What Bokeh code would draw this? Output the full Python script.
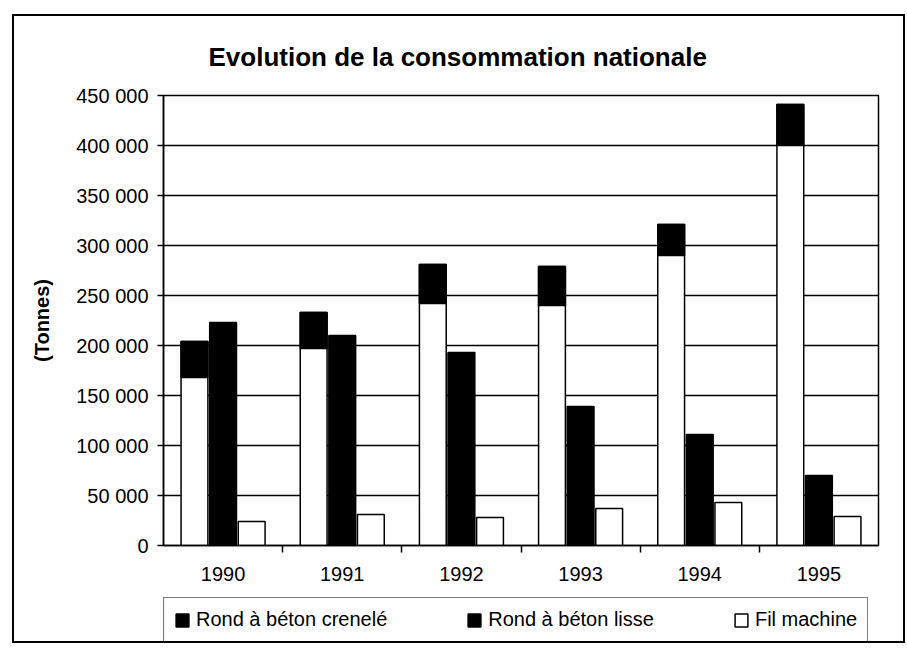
from bokeh.plotting import figure
from bokeh.layouts import column
from bokeh.models import (Range1d, FixedTicker, Legend, LegendItem, Title, ColumnDataSource)
from bokeh.transform import dodge
from bokeh.embed import file_html
from bokeh.resources import INLINE

# ---- data ----
years = ["1990", "1991", "1992", "1993", "1994", "1995"]
crenele = [204000, 233000, 281000, 279000, 321000, 441000]          # bar top
crenele_light = [168000, 197000, 242000, 240000, 290000, 400000]    # top of light part
lisse = [223000, 210000, 193000, 139000, 111000, 70000]
fil = [24000, 31000, 28000, 37000, 43000, 29000]
series_names = ["Rond à béton crenelé", "Rond à béton lisse", "Fil machine"]
y_ticks = [0, 50000, 100000, 150000, 200000, 250000, 300000, 350000, 400000, 450000]
y_tick_labels = ["0", "50 000", "100 000", "150 000", "200 000", "250 000",
                 "300 000", "350 000", "400 000", "450 000"]
title_text = "Evolution de la consommation nationale"
y_label = "(Tonnes)"

FONT = "Liberation Sans"

xc = [i + 0.5 for i in range(len(years))]
src = ColumnDataSource(dict(x=xc, crenele=crenele, crenele_light=crenele_light,
                            lisse=lisse, fil=fil, zero=[0] * len(years)))

BW = 0.225
OFF = 0.24
LW = 1.5


def draw_bars(fig):
    rcl = fig.vbar(x=dodge("x", -OFF, range=fig.x_range), top="crenele", bottom="zero", width=BW,
                   source=src, fill_color="white", line_color="black", line_width=LW)
    rcd = fig.vbar(x=dodge("x", -OFF, range=fig.x_range), top="crenele", bottom="crenele_light",
                   width=BW, source=src, fill_color="black", line_color="black", line_width=LW)
    rl = fig.vbar(x=dodge("x", 0, range=fig.x_range), top="lisse", bottom="zero", width=BW,
                  source=src, fill_color="black", line_color="black", line_width=LW)
    rf = fig.vbar(x=dodge("x", OFF, range=fig.x_range), top="fil", bottom="zero", width=BW,
                  source=src, fill_color="white", line_color="black", line_width=LW)
    return rcl, rcd, rl, rf


p = figure(width=889, height=575, x_range=Range1d(0, len(years)),
           y_range=Range1d(0, 450000), output_backend="svg", toolbar_location=None,
           min_border_left=149, min_border_right=25, min_border_top=79,
           min_border_bottom=46)
p.background_fill_color = "white"
p.border_fill_color = "white"
p.outline_line_color = "black"
p.outline_line_width = 1.5

draw_bars(p)

# title
t = Title(text=title_text, text_font=FONT, text_font_size="26px", text_font_style="bold",
          align="left", offset=45, standoff=47, text_color="black")
p.title = t

# x axis
xa = p.xaxis[0]
xa.ticker = FixedTicker(ticks=xc, minor_ticks=list(range(1, len(years))))
xa.major_label_overrides = {x: y for x, y in zip(xc, years)}
xa.major_tick_line_color = None
xa.major_tick_out = 7
xa.major_tick_in = 0
xa.minor_tick_out = 7
xa.minor_tick_in = 0
xa.minor_tick_line_color = "black"
xa.minor_tick_line_width = 1.5
xa.axis_line_color = "black"
xa.axis_line_width = 1.5
xa.major_label_standoff = 14
xa.major_label_text_font = FONT
xa.major_label_text_font_size = "20px"
xa.major_label_text_color = "black"

# y axis
ya = p.yaxis[0]
ya.ticker = FixedTicker(ticks=y_ticks, minor_ticks=[])
ya.major_label_overrides = {v: s for v, s in zip(y_ticks, y_tick_labels)}
ya.major_tick_out = 6
ya.major_tick_in = 0
ya.major_tick_line_color = "black"
ya.major_tick_line_width = 1.5
ya.axis_line_color = "black"
ya.axis_line_width = 1.5
ya.major_label_standoff = 9
ya.major_label_text_font = FONT
ya.major_label_text_font_size = "20px"
ya.major_label_text_color = "black"
ya.axis_label = y_label
ya.axis_label_text_font = FONT
ya.axis_label_text_font_size = "20px"
ya.axis_label_text_font_style = "bold"
ya.axis_label_text_color = "black"
ya.axis_label_standoff = 20

p.xgrid.visible = False
p.ygrid.ticker = FixedTicker(ticks=y_ticks)
p.ygrid.grid_line_color = "black"
p.ygrid.grid_line_width = 1.4

# legend strip (separate figure; its bars lie outside its visible x range)
pl = figure(width=889, height=50, x_range=Range1d(100, 101), y_range=Range1d(0, 1),
            output_backend="svg", toolbar_location=None,
            x_axis_location=None, y_axis_location=None,
            min_border_left=149, min_border_right=0, min_border_top=6, min_border_bottom=0)
pl.grid.visible = False
pl.outline_line_color = None
pl.border_fill_color = "white"
_, lcd, ll, lf = draw_bars(pl)

legend = Legend(items=[LegendItem(label=series_names[0], renderers=[lcd]),
                       LegendItem(label=series_names[1], renderers=[ll]),
                       LegendItem(label=series_names[2], renderers=[lf])],
                orientation="horizontal", location="top_left",
                border_line_color="black", border_line_width=1.5,
                label_text_font=FONT, label_text_font_size="20px", label_text_color="black",
                glyph_width=16, glyph_height=16, label_standoff=6, spacing=79,
                padding=10, margin=0)
pl.add_layout(legend)

page = column(p, pl, spacing=0, margin=(14, 0, 0, 12),
              styles={"border": "2px solid black", "background-color": "white"})

open("out.html", "w").write(file_html(page, INLINE))
